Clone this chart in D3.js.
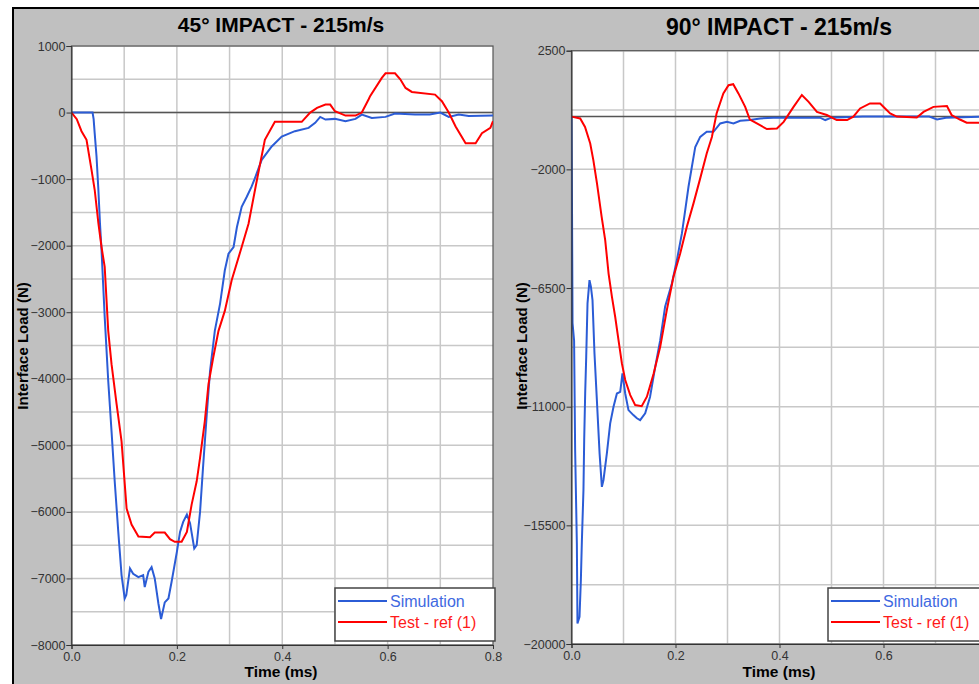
<!DOCTYPE html>
<html>
<head>
<meta charset="utf-8">
<script src="https://cdn.jsdelivr.net/npm/d3@7"></script>
<style>
  html, body { margin: 0; padding: 0; background: #fff; overflow: hidden; }
  svg { display: block; font-family: "Liberation Sans", Arial, sans-serif; }
</style>
</head>
<body>
<div id="chart"></div>
<script>
// time (ms), interface load (N)
const sim45 = [[0,0],[0.04,0],[0.042,-100],[0.044,-310],[0.0475,-660],[0.051,-1160],[0.054,-1660],[0.057,-2070],[0.06,-2570],[0.063,-3070],[0.0697,-4030],[0.076,-4790],[0.082,-5540],[0.0888,-6300],[0.095,-6950],[0.101,-7300],[0.104,-7250],[0.111,-6850],[0.117,-6930],[0.127,-6980],[0.136,-6950],[0.139,-7130],[0.146,-6900],[0.152,-6830],[0.158,-7000],[0.165,-7380],[0.17,-7610],[0.177,-7360],[0.184,-7300],[0.19,-7050],[0.2,-6600],[0.206,-6300],[0.212,-6150],[0.219,-6040],[0.225,-6170],[0.233,-6550],[0.2376,-6500],[0.244,-6000],[0.25,-5290],[0.2567,-4540],[0.263,-3880],[0.272,-3280],[0.282,-2870],[0.291,-2370],[0.298,-2120],[0.3076,-2020],[0.314,-1720],[0.323,-1415],[0.3327,-1265],[0.342,-1110],[0.348,-990],[0.361,-710],[0.38,-510],[0.399,-360],[0.424,-280],[0.45,-230],[0.4625,-155],[0.472,-65],[0.482,-105],[0.5,-95],[0.52,-130],[0.539,-95],[0.551,-30],[0.57,-80],[0.596,-65],[0.614,-15],[0.652,-30],[0.68,-30],[0.7,0],[0.716,-65],[0.735,-30],[0.754,-50],[0.8,-45]];
const test45 = [[0,0],[0.01,-100],[0.019,-280],[0.0285,-410],[0.038,-860],[0.044,-1160],[0.051,-1660],[0.057,-2020],[0.063,-2320],[0.0697,-3280],[0.076,-3780],[0.0856,-4380],[0.095,-4940],[0.1046,-5950],[0.114,-6190],[0.127,-6370],[0.149,-6380],[0.158,-6310],[0.177,-6310],[0.187,-6410],[0.196,-6450],[0.209,-6450],[0.219,-6300],[0.228,-5890],[0.2376,-5540],[0.244,-5190],[0.253,-4640],[0.26,-4080],[0.269,-3680],[0.279,-3280],[0.291,-2980],[0.304,-2520],[0.323,-2020],[0.336,-1670],[0.352,-1010],[0.367,-410],[0.386,-140],[0.437,-140],[0.453,0],[0.466,70],[0.482,120],[0.491,120],[0.5,20],[0.52,-45],[0.539,-45],[0.551,0],[0.564,200],[0.567,250],[0.589,520],[0.596,590],[0.614,590],[0.624,500],[0.634,370],[0.646,310],[0.69,270],[0.703,170],[0.716,0],[0.729,-210],[0.748,-460],[0.767,-460],[0.779,-310],[0.795,-230],[0.8,-130]];
const sim90 = [[0,0],[0.001,-3550],[0.002,-7830],[0.005,-8500],[0.007,-12650],[0.0103,-16180],[0.0115,-19220],[0.0154,-18970],[0.018,-17580],[0.02,-16060],[0.023,-14160],[0.0244,-12270],[0.0263,-10500],[0.0283,-9110],[0.0308,-7080],[0.0346,-6200],[0.0373,-6450],[0.0404,-6960],[0.0442,-8980],[0.0488,-10750],[0.054,-12770],[0.0584,-14040],[0.0615,-13780],[0.068,-12770],[0.0744,-11630],[0.0808,-11000],[0.0873,-10500],[0.0937,-10440],[0.098,-9740],[0.1033,-10500],[0.1096,-11130],[0.119,-11320],[0.1258,-11440],[0.132,-11510],[0.1417,-11250],[0.151,-10630],[0.161,-9490],[0.1706,-8480],[0.18,-7210],[0.193,-6330],[0.2027,-5440],[0.2123,-4430],[0.2187,-3550],[0.225,-2660],[0.2315,-1900],[0.238,-1150],[0.2475,-770],[0.26,-575],[0.273,-575],[0.286,-260],[0.299,-200],[0.3115,-260],[0.3244,-160],[0.343,-130],[0.363,-70],[0.388,-40],[0.478,-40],[0.488,-130],[0.5,-40],[0.56,0],[0.688,0],[0.703,-110],[0.72,-40],[0.8,0]];
const test90 = [[0,0],[0.0167,-70],[0.026,-390],[0.036,-1020],[0.042,-1650],[0.049,-2530],[0.058,-3800],[0.0648,-4680],[0.0713,-5950],[0.0777,-6830],[0.084,-7590],[0.0904,-8480],[0.0969,-9360],[0.1033,-9990],[0.113,-10560],[0.1225,-10940],[0.135,-10980],[0.145,-10620],[0.158,-9740],[0.1706,-8730],[0.1833,-7340],[0.196,-6080],[0.209,-5190],[0.2218,-4180],[0.2346,-3290],[0.247,-2380],[0.26,-1400],[0.27,-770],[0.279,120],[0.292,880],[0.302,1190],[0.311,1230],[0.321,880],[0.334,370],[0.343,-110],[0.3565,-260],[0.3757,-470],[0.395,-450],[0.408,-200],[0.427,370],[0.443,820],[0.456,560],[0.472,180],[0.491,60],[0.51,-130],[0.53,-130],[0.542,0],[0.555,310],[0.574,500],[0.5935,500],[0.6128,120],[0.6256,0],[0.664,-30],[0.677,180],[0.696,370],[0.722,400],[0.731,60],[0.747,-110],[0.76,-230],[0.8,-230]];

const xTicks = [0, 0.2, 0.4, 0.6, 0.8];
const yTicks45 = [1000, 0, -1000, -2000, -3000, -4000, -5000, -6000, -7000, -8000];
const yTicks90 = [2500, -2000, -6500, -11000, -15500, -20000];
const legendNames = ["Simulation", "Test - ref (1)"];

const W = 979, H = 684;
const BLUE = "#2b5cd6", RED = "#ff0000";

const svg = d3.select("#chart").append("svg")
  .attr("width", W).attr("height", H);

svg.append("rect").attr("x", 12).attr("y", 7).attr("width", W).attr("height", H)
  .attr("fill", "#c0c0c0");
svg.append("line").attr("x1", 12).attr("x2", W).attr("y1", 8).attr("y2", 8)
  .attr("stroke", "#000").attr("stroke-width", 2);
svg.append("line").attr("x1", 13).attr("x2", 13).attr("y1", 7).attr("y2", H)
  .attr("stroke", "#000").attr("stroke-width", 2);

function drawPanel(p) {
  const x = d3.scaleLinear().domain([0, 0.8]).range([p.left, p.right]);
  const y = d3.scaleLinear().domain(p.yDomain).range([p.bottom, p.top]);
  const g = svg.append("g");

  g.append("rect").attr("x", p.left).attr("y", p.top)
    .attr("width", p.right - p.left).attr("height", p.bottom - p.top)
    .attr("fill", "#fff");

  // grid
  const xGrid = d3.range(1, 8).map(i => i * 0.1);
  g.selectAll(".vg").data(xGrid).enter().append("line")
    .attr("x1", d => x(d)).attr("x2", d => x(d))
    .attr("y1", p.top).attr("y2", p.bottom)
    .attr("stroke", "#c8c8c8").attr("stroke-width", 1.5);
  const yGrid = d3.range(p.yDomain[0], p.yDomain[1] + 1, p.yMinor);
  g.selectAll(".hg").data(yGrid).enter().append("line")
    .attr("x1", p.left).attr("x2", p.right)
    .attr("y1", d => y(d)).attr("y2", d => y(d))
    .attr("stroke", "#c8c8c8").attr("stroke-width", 1.5);

  // zero line
  g.append("line").attr("x1", p.left).attr("x2", p.right)
    .attr("y1", y(0)).attr("y2", y(0))
    .attr("stroke", "#555").attr("stroke-width", 1.5);

  // border
  g.append("rect").attr("x", p.left).attr("y", p.top)
    .attr("width", p.right - p.left).attr("height", p.bottom - p.top)
    .attr("fill", "none").attr("stroke", "#555").attr("stroke-width", 1.2);

  // series
  const clipId = "clip" + p.id;
  svg.append("clipPath").attr("id", clipId).append("rect")
    .attr("x", p.left).attr("y", p.top)
    .attr("width", p.right - p.left).attr("height", p.bottom - p.top);
  const line = d3.line().x(d => x(d[0])).y(d => y(d[1]));
  const lines = g.append("g").attr("clip-path", `url(#${clipId})`);
  lines.append("path").datum(p.sim).attr("d", line)
    .attr("fill", "none").attr("stroke", BLUE).attr("stroke-width", 2);
  lines.append("path").datum(p.test).attr("d", line)
    .attr("fill", "none").attr("stroke", RED).attr("stroke-width", 2);

  // axes
  const yAxis = g.append("g").attr("transform", `translate(${p.left},0)`)
    .call(d3.axisLeft(y).tickValues(p.yTicks).tickSize(5).tickPadding(1).tickFormat(d3.format("d")));
  const xAxis = g.append("g").attr("transform", `translate(0,${p.bottom})`)
    .call(d3.axisBottom(x).tickValues(xTicks).tickSize(4).tickPadding(3).tickFormat(d3.format(".1f")));
  [yAxis, xAxis].forEach(a => {
    a.select(".domain").attr("stroke", "#333");
    a.selectAll(".tick line").attr("stroke", "#333");
    a.selectAll("text").attr("fill", "#333").style("font-size", "12.5px")
      .style("font-family", "'Liberation Sans', Arial, sans-serif");
  });

  // titles
  g.append("text").attr("x", p.titleX).attr("y", p.titleY)
    .attr("text-anchor", "middle").style("font-weight", "bold")
    .style("font-size", p.titleSize + "px").text(p.title);
  g.append("text").attr("x", p.titleX).attr("y", 677)
    .attr("text-anchor", "middle").style("font-weight", "bold")
    .style("font-size", "15.5px").text("Time (ms)");
  g.append("text")
    .attr("transform", `translate(${p.yLabelX},${346}) rotate(-90)`)
    .attr("text-anchor", "middle").style("font-weight", "bold")
    .style("font-size", "15px").text("Interface Load (N)");

  // legend
  const lg = g.append("g").attr("transform", `translate(${p.legendX},588)`);
  lg.append("rect").attr("width", 160).attr("height", 53)
    .attr("fill", "#fff").attr("stroke", "#444").attr("stroke-width", 1.5);
  [BLUE, RED].forEach((c, i) => {
    const yy = 13 + i * 21;
    lg.append("line").attr("x1", 3).attr("x2", 52).attr("y1", yy).attr("y2", yy)
      .attr("stroke", c).attr("stroke-width", 2);
    lg.append("text").attr("x", 55).attr("y", yy + 5.5)
      .attr("fill", i === 0 ? "#4169e1" : "#ff1a1a")
      .style("font-size", "16px").text(legendNames[i]);
  });
}

drawPanel({
  id: 45, left: 71.5, right: 493, top: 46, bottom: 645,
  yDomain: [-8000, 1000], yMinor: 500, yTicks: yTicks45,
  sim: sim45, test: test45,
  title: "45° IMPACT - 215m/s", titleX: 281, titleY: 32, titleSize: 21,
  yLabelX: 28, legendX: 335
});
drawPanel({
  id: 90, left: 571.5, right: 987.5, top: 50.7, bottom: 644,
  yDomain: [-20000, 2500], yMinor: 2250, yTicks: yTicks90,
  sim: sim90, test: test90,
  title: "90° IMPACT - 215m/s", titleX: 779, titleY: 35, titleSize: 23,
  yLabelX: 527, legendX: 828
});
</script>
</body>
</html>
